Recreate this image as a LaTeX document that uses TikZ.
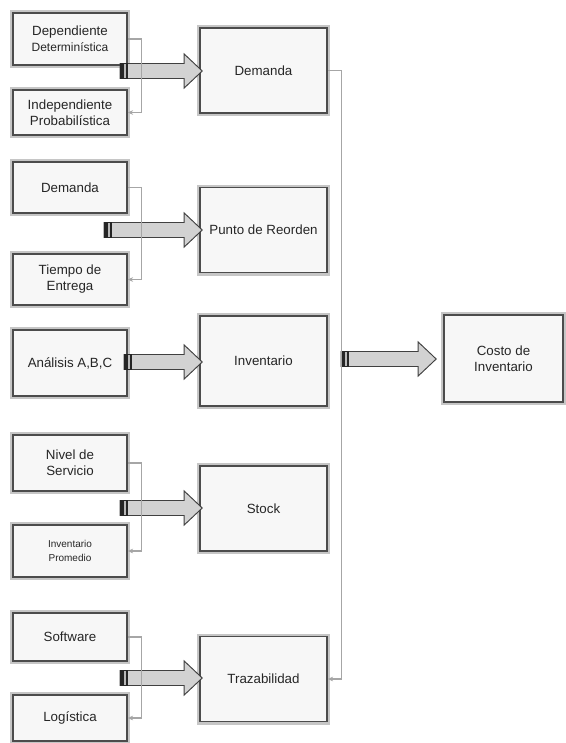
\documentclass[tikz,border=0pt]{standalone}
\usepackage{fontspec}
\setmainfont{Liberation Sans}
\usetikzlibrary{arrows.meta,calc}
\begin{document}
\begin{tikzpicture}[x=0.75pt,y=-0.75pt,every node/.style={font=\fontsize{10}{12}\selectfont,text=black!85}]
    \tikzset{
      box/.style={draw=black!70,line width=1.2pt,fill=gray!6,
        preaction={draw=gray!45,line width=4.5pt},
        align=center,inner sep=0pt},
      small/.style={box,minimum width=85.5pt},
      big/.style={box,minimum width=95.25pt,minimum height=63.75pt},
      link/.style={draw=gray!70,line width=0.9pt,-{Stealth[length=4pt,width=3.5pt]}},
      fatarrow/.style={fill=gray!35,draw=black!75,line width=0.7pt,line join=miter},
      tailbar/.style={fill=black!85}
    }
    \useasboundingbox (0,0) rectangle (565,743);
    % entradas
    \node[small,minimum height=39pt] (dep) at (70,39)
      {Dependiente\\{\fontsize{9}{10.5}\selectfont Determinística}};
    \node[small,minimum height=33.75pt] (ind) at (70,112.5) {Independiente\\Probabilística};
    \node[small,minimum height=38.25pt] (dem) at (70,187.5) {Demanda};
    \node[small,minimum height=38.25pt] (tiem) at (70,279.5) {Tiempo de\\Entrega};
    \node[small,minimum height=49.5pt] (anal) at (70,363) {Análisis A,B,C};
    \node[small,minimum height=42pt] (niv) at (70,463) {Nivel de\\Servicio};
    \node[small,minimum height=39pt,font=\fontsize{7.5}{10}\selectfont] (invp) at (70,551)
      {Inventario\\Promedio};
    \node[small,minimum height=36pt] (soft) at (70,637) {Software};
    \node[small,minimum height=34.5pt] (log) at (70,718) {Logística};
    % factores
    \node[big] (demA) at (263.5,70.5) {Demanda};
    \node[big] (punto) at (263.5,230) {Punto de Reorden};
    \node[big,minimum height=67.5pt] (inv) at (263.5,361) {Inventario};
    \node[big] (stock) at (263.5,508.5) {Stock};
    \node[big] (traz) at (263.5,679) {Trazabilidad};
    \node[box,minimum width=89.25pt,minimum height=65.25pt] (costo) at (503.5,358.5)
      {Costo de\\Inventario};
    % flechas gruesas
    \foreach \dst/\xa/\ya/\off in {demA/120/71/3,punto/104/230/3,inv/124/362/3,
        stock/120/508/3,traz/120/678/3,costo/341/359/-7} {
      \coordinate (t) at (\xa,\ya);
      \coordinate (h) at ($(t -| \dst.west)+(\off,0)$);
      \draw[fatarrow] ($(t)+(0,-7.5)$) -- ($(h)+(-18,-7.5)$) -- ($(h)+(-18,-17)$)
        -- (h) -- ($(h)+(-18,17)$) -- ($(h)+(-18,7.5)$) -- ($(t)+(0,7.5)$) -- cycle;
      \fill[tailbar] ($(t)+(0,-8)$) rectangle ($(t)+(8,8)$);
      \draw[gray!55,line width=0.8pt] ($(t)+(5,-7)$) -- ($(t)+(5,7)$);
    }
    % conectores
    \draw[link] (dep.east) -- ++(14,0) |- (ind.east);
    \draw[link] (dem.east) -- ++(14,0) |- (tiem.east);
    \draw[link] (niv.east) -- ++(14,0) |- (invp.east);
    \draw[link] (soft.east) -- ++(14,0) |- (log.east);
    \draw[link] (demA.east) -- ++(14,0) |- (traz.east);
  \end{tikzpicture}
\end{document}
